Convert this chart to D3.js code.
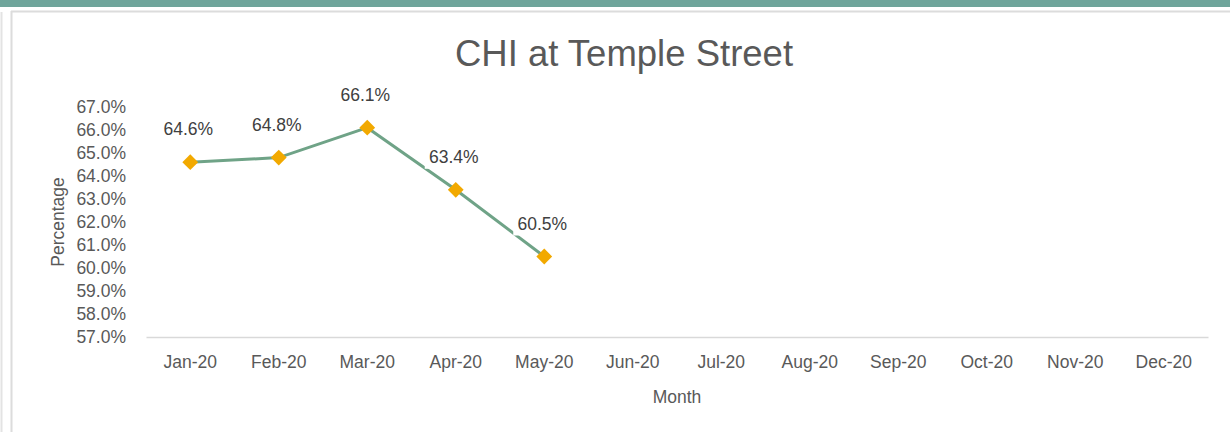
<!DOCTYPE html>
<html>
<head>
<meta charset="utf-8">
<script src="https://cdn.jsdelivr.net/npm/d3@7"></script>
<style>
  body { margin: 0; background: #fff; }
  svg { display: block; font-family: "Liberation Sans", Arial, sans-serif; }
</style>
</head>
<body>
<svg id="chart-svg"></svg>
<script>
const months = ["Jan-20", "Feb-20", "Mar-20", "Apr-20", "May-20", "Jun-20",
                "Jul-20", "Aug-20", "Sep-20", "Oct-20", "Nov-20", "Dec-20"];
const chiValues = [64.6, 64.8, 66.1, 63.4, 60.5];
const yTicks = [57, 58, 59, 60, 61, 62, 63, 64, 65, 66, 67];

const W = 1230, H = 432;
const margin = { top: 107, right: 22, bottom: 95, left: 146 };
const width = W - margin.left - margin.right,
      height = H - margin.top - margin.bottom;

const root = d3.select("#chart-svg").attr("width", W).attr("height", H);

// page frame: teal band and light borders
root.append("rect").attr("x", 0).attr("y", 0).attr("width", W).attr("height", 7).attr("fill", "#6fa59b");
root.append("line").attr("x1", 1.5).attr("x2", 1.5).attr("y1", 12).attr("y2", H).attr("stroke", "#e3e3e3").attr("stroke-width", 2);
root.append("line").attr("x1", 11).attr("x2", W).attr("y1", 11.5).attr("y2", 11.5).attr("stroke", "#dcdcdc").attr("stroke-width", 2);
root.append("line").attr("x1", 11.5).attr("x2", 11.5).attr("y1", 11).attr("y2", H).attr("stroke", "#dcdcdc").attr("stroke-width", 2);

const svg = root.append("g").attr("transform", "translate(" + margin.left + "," + margin.top + ")");

const x = d3.scaleBand().domain(months).range([0, width]);
const y = d3.scaleLinear().domain([57, 67]).range([height, 0]);

// title
root.append("text")
    .attr("x", 624).attr("y", 66)
    .attr("text-anchor", "middle")
    .attr("font-size", 36.5).attr("fill", "#595959")
    .text("CHI at Temple Street");

// x axis
const xAxis = svg.append("g")
    .attr("transform", "translate(0," + height + ")")
    .call(d3.axisBottom(x).tickSize(0).tickPadding(19));
xAxis.select(".domain").attr("stroke", "#d9d9d9").attr("stroke-width", 1.5);
xAxis.selectAll("text").attr("font-size", 17.5).attr("fill", "#595959")
     .attr("font-family", "Liberation Sans, Arial, sans-serif");

// y axis
const yAxis = svg.append("g")
    .call(d3.axisLeft(y).tickValues(yTicks).tickSize(0).tickPadding(20)
          .tickFormat(d => d.toFixed(1) + "%"));
yAxis.select(".domain").remove();
yAxis.selectAll("text").attr("font-size", 17.5).attr("fill", "#595959")
     .attr("font-family", "Liberation Sans, Arial, sans-serif");

// axis titles
root.append("text")
    .attr("x", 677).attr("y", 403)
    .attr("text-anchor", "middle")
    .attr("font-size", 17.5).attr("fill", "#595959")
    .text("Month");
root.append("text")
    .attr("transform", "translate(64,222) rotate(-90)")
    .attr("text-anchor", "middle")
    .attr("font-size", 17.5).attr("fill", "#595959")
    .text("Percentage");

const points = chiValues.map((v, i) => ({ month: months[i], value: v }));
const cx = d => x(d.month) + x.bandwidth() / 2;

// line
svg.append("path")
   .datum(points)
   .attr("fill", "none")
   .attr("stroke", "#6fa387")
   .attr("stroke-width", 3)
   .attr("d", d3.line().x(cx).y(d => y(d.value)));

// label backgrounds knock out the line
const labels = svg.selectAll("g.lbl")
   .data(points)
   .enter()
   .append("g")
   .attr("class", "lbl")
   .attr("transform", d => "translate(" + (cx(d) - 2) + "," + (y(d.value) - 33) + ")");
labels.append("rect")
   .attr("x", -29).attr("y", -12).attr("width", 58).attr("height", 24)
   .attr("fill", "#fff");
labels.append("text")
   .attr("text-anchor", "middle")
   .attr("dy", "0.35em")
   .attr("font-size", 17.5).attr("fill", "#404040")
   .text(d => d.value.toFixed(1) + "%");

// diamond markers
svg.selectAll("path.marker")
   .data(points)
   .enter()
   .append("path")
   .attr("class", "marker")
   .attr("d", d3.symbol().type(d3.symbolSquare).size(125))
   .attr("transform", d => "translate(" + cx(d) + "," + y(d.value) + ") rotate(45)")
   .attr("fill", "#f2a900");
</script>
</body>
</html>
